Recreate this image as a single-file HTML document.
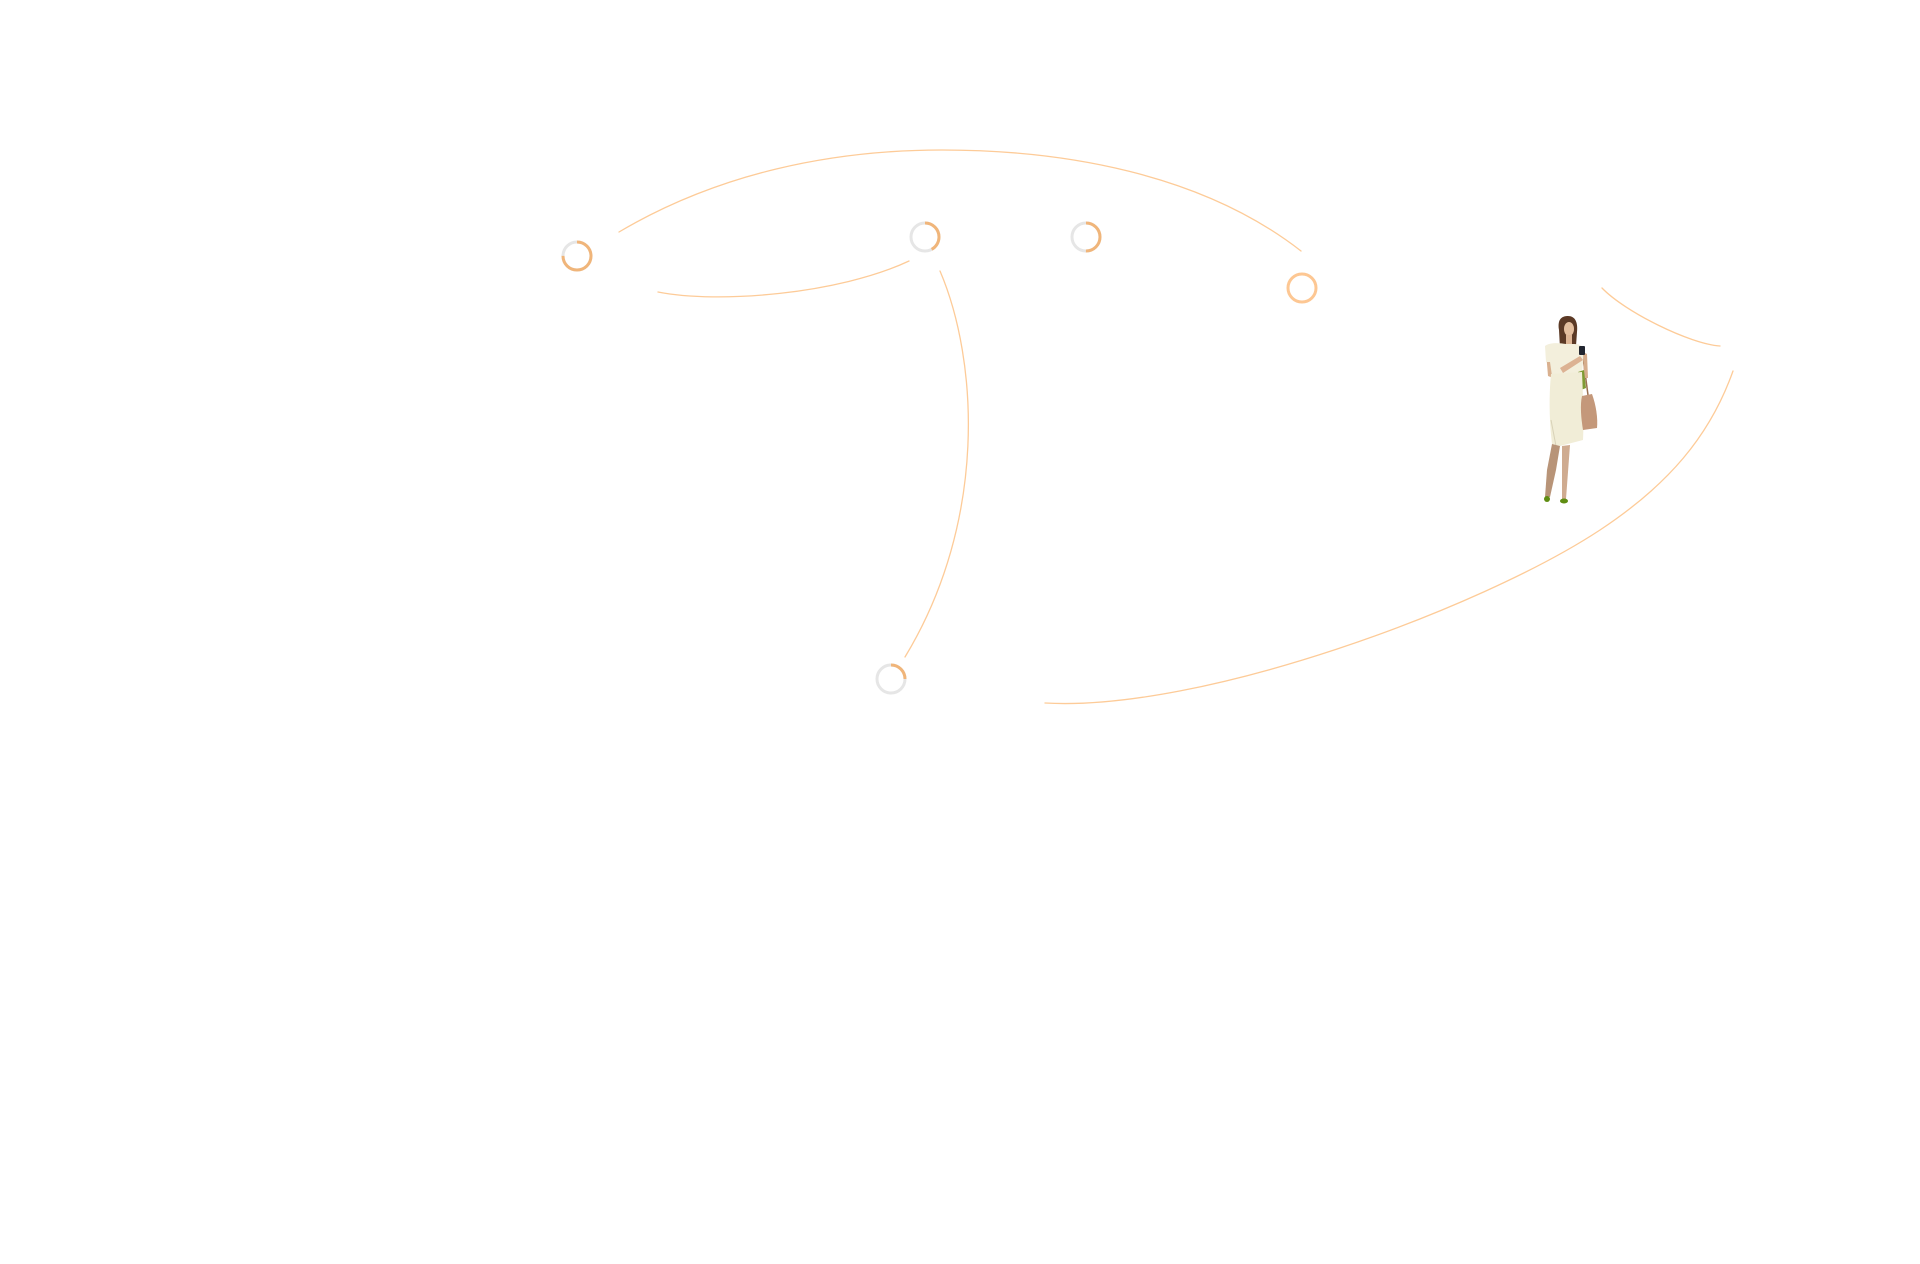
<!DOCTYPE html>
<html>
<head>
<meta charset="utf-8">
<style>
  html, body { margin: 0; padding: 0; background: #ffffff; }
  body { width: 1920px; height: 1264px; overflow: hidden; position: relative; font-family: "Liberation Sans", sans-serif; }
  svg { position: absolute; left: 0; top: 0; }
</style>
</head>
<body>
<svg width="1920" height="1264" viewBox="0 0 1920 1264" xmlns="http://www.w3.org/2000/svg">
  <g fill="none" stroke="#fdcb98" stroke-width="1.3" stroke-linecap="round">
    <!-- top arc -->
    <path d="M619,232 C719,173 832,150 942,150 C1062,150 1201,173 1301,251"/>
    <!-- inner left curve -->
    <path d="M658,292 C718,304 839,294 909,261"/>
    <!-- long vertical curve -->
    <path d="M940,271 C978,360 988,520 905,657"/>
    <!-- bottom big curve -->
    <path d="M1045,703 C1200,712 1480,609 1600,530 C1668,485 1710,436 1733,371"/>
    <!-- top right small arc -->
    <path d="M1602,288 C1625,312 1690,344 1720,346"/>
  </g>

  <!-- circles -->
  <g fill="none" stroke-width="3">
    <circle cx="577" cy="256" r="14" stroke="#e6e6e6"/>
    <circle cx="577" cy="256" r="14" stroke="#f0b57a" stroke-dasharray="66 88" transform="rotate(-90 577 256)"/>
    <circle cx="925" cy="237" r="14" stroke="#e6e6e6"/>
    <circle cx="925" cy="237" r="14" stroke="#f0b57a" stroke-dasharray="37 88" transform="rotate(-90 925 237)"/>
    <circle cx="1086" cy="237" r="14" stroke="#e6e6e6"/>
    <circle cx="1086" cy="237" r="14" stroke="#f0b57a" stroke-dasharray="44 88" transform="rotate(-90 1086 237)"/>
    <circle cx="1302" cy="288" r="14" stroke="#fdc793"/>
    <circle cx="891" cy="679" r="14" stroke="#e6e6e6"/>
    <circle cx="891" cy="679" r="14" stroke="#f0b57a" stroke-dasharray="22 88" transform="rotate(-90 891 679)"/>
  </g>

  <!-- woman figure -->
  <g>
    <path d="M1559,330 C1557,318 1563,316 1568,316 C1575,316 1578,322 1577,332 L1576,346 L1560,348 Z" fill="#5c3a26"/>
    <ellipse cx="1569" cy="329" rx="5" ry="7" fill="#e4bf9f"/>
    <rect x="1566" y="335" width="6" height="9" fill="#deb696"/>
    <path d="M1546,352 L1551,350 L1554,372 L1571,360 L1574,364 L1553,378 L1548,376 Z" fill="#d9b08f"/>
    <path d="M1582,350 L1588,395" stroke="#9a7050" stroke-width="1.5" fill="none"/>
    <path d="M1545,346 C1550,342 1560,343 1566,344 L1574,344 C1580,344 1584,346 1584,352 L1582,372 L1552,376 L1550,362 L1546,362 Z" fill="#f3efdc"/>
    <path d="M1560,368 L1580,356 L1583,360 L1563,373 Z" fill="#dcb293"/>
    <path d="M1583,352 L1587,354 L1588,378 L1584,378 Z" fill="#d6ad8c"/>
    <rect x="1579" y="346" width="6" height="9" rx="1" fill="#222630"/>
    <path d="M1578,372 L1584,370 L1586,388 L1581,390 Z" fill="#7f9b34"/>
    <path d="M1551,374 L1582,372 C1583,395 1584,420 1583,440 L1560,446 L1552,444 C1549,420 1549,395 1551,374 Z" fill="#f1edd7"/>
    <path d="M1551,420 L1556,446" stroke="#d8d2b8" stroke-width="1" fill="none"/>
    <path d="M1582,396 L1592,394 C1596,405 1598,418 1597,428 L1583,430 C1581,418 1580,405 1582,396 Z" fill="#c4987a"/>
    <path d="M1552,444 L1560,446 L1556,470 L1550,497 L1545,497 L1547,470 Z" fill="#b89478"/>
    <path d="M1562,446 L1570,445 L1568,472 L1566,499 L1562,499 L1562,472 Z" fill="#cfab90"/>
    <ellipse cx="1547" cy="499" rx="3" ry="3" fill="#5f8d12"/>
    <ellipse cx="1564" cy="501" rx="4" ry="2.5" fill="#5f8d12"/>
  </g>
</svg>
</body>
</html>
